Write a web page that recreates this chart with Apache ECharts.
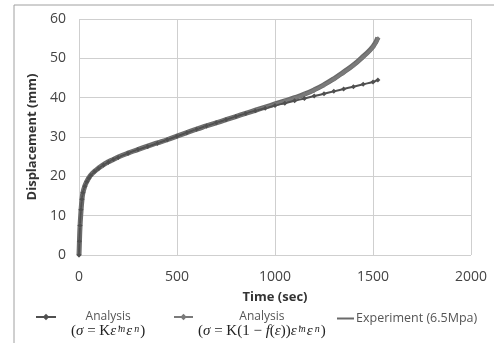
<!DOCTYPE html>
<html>
<head>
<meta charset="utf-8">
<script src="https://cdn.jsdelivr.net/npm/echarts@6/dist/echarts.min.js"></script>
<style>
html, body { margin: 0; padding: 0; background: #fff; }
#main { width: 494px; height: 343px; }
</style>
</head>
<body>
<div id="main"></div>
<script>
var myChart = echarts.init(document.getElementById('main'));

// time (sec)
var times = [0, 2, 5, 10, 15, 20, 30, 40, 50, 60, 80, 100, 125, 150, 175, 200,
  250, 300, 350, 400, 450, 500, 550, 600, 650, 700, 750, 800, 850, 900, 950,
  1000, 1050, 1100, 1150, 1200, 1250, 1300, 1350, 1400, 1450, 1500, 1525];

// displacement (mm)
var analysis1 = [0, 3.5, 7.5, 11.5, 14.2, 15.8, 17.5, 18.6, 19.5, 20.2, 21.2, 22.0, 22.9, 23.6, 24.3, 24.8,
  25.9, 26.8, 27.6, 28.4, 29.3, 30.2, 31.1, 32.0, 32.8, 33.6, 34.4, 35.2, 36.0, 36.7, 37.3,
  38.0, 38.6, 39.2, 39.8, 40.4, 41.0, 41.6, 42.2, 42.8, 43.4, 44.0, 44.5];
var analysis2 = [0, 3.5, 7.5, 11.5, 14.2, 15.8, 17.5, 18.6, 19.5, 20.2, 21.2, 22.0, 22.9, 23.6, 24.3, 24.8,
  25.9, 26.8, 27.6, 28.4, 29.3, 30.2, 31.1, 32.0, 32.8, 33.6, 34.4, 35.2, 36.0, 36.8, 37.5,
  38.3, 39.1, 39.9, 40.8, 41.9, 43.2, 44.7, 46.4, 48.2, 50.3, 52.8, 55.0];
var experiment = [0, 3, 7, 11, 14, 15.8, 17.6, 18.7, 19.6, 20.3, 21.3, 22.1, 23.0, 23.7, 24.3, 24.9,
  25.9, 26.8, 27.7, 28.5, 29.3, 30.2, 31.1, 32.0, 32.8, 33.6, 34.4, 35.2, 36.0, 36.8, 37.6,
  38.4, 39.2, 40.0, 40.9, 42.0, 43.3, 44.8, 46.5, 48.3, 50.5, 53.0, 55.3];

var xTicks = [0, 500, 1000, 1500, 2000];
var yTicks = [0, 10, 20, 30, 40, 50, 60];

var names = ['Analysis1', 'Analysis2', 'Experiment (6.5Mpa)'];
// legend formulas as rich text pieces (r = upright, i = italic, s = superscript)
var formulas = {
  Analysis1: '{r|(}{i|σ}{r| = K}{i|ε̇}{s|m}{i|ε}{s|n}{r|)}',
  Analysis2: '{r|(}{i|σ}{r| = K(1 − }{i|f}{r|(}{i|ε}{r|))}{i|ε̇}{s|m}{i|ε}{s|n}{r|)}'
};

function pairs(xs, ys) {
  return xs.map(function (x, i) { return [x, ys[i]]; });
}

var serif = 'Liberation Serif';
var legendRich = {
  t: { align: 'center', fontSize: 12, color: '#555', fontFamily: 'Open Sans', lineHeight: 14 },
  r: { fontSize: 15, color: '#222', fontFamily: serif, lineHeight: 15 },
  i: { fontSize: 15, color: '#222', fontFamily: serif, fontStyle: 'italic', lineHeight: 15 },
  s: { fontSize: 10, color: '#222', fontFamily: serif, fontStyle: 'italic', verticalAlign: 'top',
       lineHeight: 15, padding: [0, 1, 0, 2] }
};
function legendFmt(name) {
  if (formulas[name]) return '{t|Analysis}\n' + formulas[name];
  return name;
}

var option = {
  animation: false,
  grid: { left: 79, right: 23, top: 19, bottom: 88 },
  graphic: [{
    type: 'rect',
    shape: { x: 14, y: 5, width: 520, height: 400 },
    style: { fill: 'none', stroke: '#a0a0a0', lineWidth: 1 }
  }],
  legend: [
    { data: [names[0]], left: 35, top: 311, padding: 0, itemWidth: 20, itemHeight: 8,
      formatter: legendFmt, textStyle: { padding: [15, 0, 0, 10], rich: legendRich } },
    { data: [names[1]], left: 173, top: 311, padding: 0, itemWidth: 19, itemHeight: 8,
      formatter: legendFmt, textStyle: { padding: [15, 0, 0, 0], rich: legendRich } },
    { data: [{ name: names[2], icon: 'rect' }], left: 337, top: 312, padding: 0, itemWidth: 17, itemHeight: 2,
      formatter: legendFmt, textStyle: { fontSize: 12.5, color: '#555', fontFamily: 'Open Sans', padding: [0, 0, 0, -3] } }
  ],
  xAxis: {
    type: 'value', min: xTicks[0], max: xTicks[xTicks.length - 1], interval: 500,
    name: 'Time (sec)', nameLocation: 'middle', nameGap: 36,
    nameTextStyle: { fontSize: 13, fontWeight: 'bold', color: '#333', fontFamily: 'Open Sans' },
    axisLine: { show: false }, axisTick: { show: false },
    axisLabel: { fontSize: 14, color: '#444', margin: 15, fontFamily: 'Open Sans',
      formatter: function (v) { return String(v); } },
    splitLine: { show: true, lineStyle: { color: '#cfcfcf', width: 1 } }
  },
  yAxis: {
    type: 'value', min: yTicks[0], max: yTicks[yTicks.length - 1], interval: 10,
    name: 'Displacement (mm)', nameLocation: 'middle', nameGap: 36,
    nameTextStyle: { fontSize: 13, fontWeight: 'bold', color: '#333', fontFamily: 'Open Sans' },
    axisLine: { show: false }, axisTick: { show: false },
    axisLabel: { fontSize: 14, color: '#444', margin: 13, fontFamily: 'Open Sans' },
    splitLine: { show: true, lineStyle: { color: '#cfcfcf', width: 1 } }
  },
  series: [
    {
      name: names[2], type: 'line', data: pairs(times, experiment),
      symbol: 'none', smooth: true,
      lineStyle: { color: '#6a6a6a', width: 5 }, itemStyle: { color: '#6a6a6a' }
    },
    {
      name: names[1], type: 'line', data: pairs(times, analysis2),
      symbol: 'diamond', symbolSize: 5, smooth: true,
      lineStyle: { color: '#7a7a7a', width: 3 }, itemStyle: { color: '#7a7a7a' }
    },
    {
      name: names[0], type: 'line', data: pairs(times, analysis1),
      symbol: 'diamond', symbolSize: 5, smooth: true,
      lineStyle: { color: '#505050', width: 2 }, itemStyle: { color: '#505050' }
    }
  ]
};

myChart.setOption(option);
</script>
</body>
</html>
